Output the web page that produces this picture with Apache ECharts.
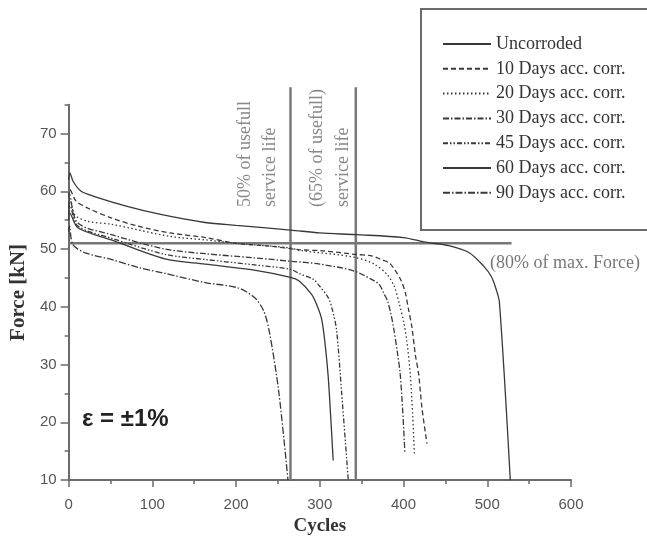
<!DOCTYPE html>
<html><head><meta charset="utf-8">
<script src="https://cdn.jsdelivr.net/npm/echarts@6/dist/echarts.min.js"></script>
<style>html,body{margin:0;padding:0;background:#fff}#c{width:647px;height:541px}</style>
</head><body><div id="c"></div><script>
const seriesNames = ['Uncorroded','10 Days acc. corr.','20 Days acc. corr.','30 Days acc. corr.','45 Days acc. corr.','60 Days acc. corr.','90 Days acc. corr.'];

const uncorrodedCycles = [0,1.5,5.5,15,31,70,110,163,200,265,300,343,400,426,454,478,496,505,510,514.5,527.5];
const uncorrodedForce  = [62,63.2,61.7,60,59.1,57.4,56,54.6,54.1,53.3,52.8,52.5,52,51.2,50.6,49.4,47,45.2,43.3,40.8,10];

const days10Cycles = [0,1.5,9,23,51,82,121,163,200,241,275,304,341,363,373,383,390,397,402,406,410,414,418,422,428];
const days10Force  = [59,60.3,58.3,57.1,55.4,54,52.8,52,51,50.5,49.9,49.7,49.1,48.8,48.2,47.6,46.3,44.6,42.5,39.5,36.5,31.8,28.4,22.5,16.3];

const days20Cycles = [0,1.5,7,23,51,121,163,200,265,275,341,365,381,389,395,400,404,408,411,413];
const days20Force  = [58,59.4,56,54.8,54.3,52.2,51.6,51,50.2,49.8,48.6,47.4,45.5,43.5,40.5,37.5,34,28.4,21,14.4];

const days30Cycles = [0,1.5,11,51,115,163,220,265,300,341,365,371,377,381,385,388,393,396,399,401.6];
const days30Force  = [57,58.6,54.5,52.5,50,49.2,48.5,47.9,47.4,46.2,44.5,43.9,42.2,41,38.7,36.5,31.8,28.4,22,14.8];

const days45Cycles = [0,1.5,11,51,115,163,220,265,275,292,298,310,315,320,326,334];
const days45Force  = [56,57.5,54,51.9,49.1,48.2,47.3,46.5,45.8,44.8,43.9,41.6,39.5,36,25.3,10];

const days60Cycles = [0,1.5,11,51,115,163,220,265,275,290,296,302,306,310,313,316];
const days60Force  = [55,56.2,53.7,51.6,48.3,47.4,46.4,45.1,44.5,42.2,40.5,38,34,28,21,13.4];

const days90Cycles = [0,1,5,19,51,84,115,163,202,222,233,240,251,262];
const days90Force  = [53,54,50.8,49.4,48.2,46.8,45.8,44.2,43.3,41.6,39.3,35.5,25.3,10];

const xTicks = [0,100,200,300,400,500,600];
const yTicks = [10,20,30,40,50,60,70];

const serviceLife50 = 265;
const serviceLife65 = 343;
const maxForce80 = 51;
const hLineEnd = 529;
const refTop = 78;

const cyclesList = [uncorrodedCycles,days10Cycles,days20Cycles,days30Cycles,days45Cycles,days60Cycles,days90Cycles];
const forceList = [uncorrodedForce,days10Force,days20Force,days30Force,days45Force,days60Force,days90Force];
const dashTypes = ['solid',[5,3],[1.5,2.5],[6,2,1.5,2],[5,2,1.5,2,1.5,2],'solid',[7,2,1.5,2]];

function pairs(xs, ys){ return xs.map((x,i)=>[x, ys[i]]); }

const curveSeries = seriesNames.map((name,i)=>({
  name: name, type:'line', xAxisIndex:0, yAxisIndex:0,
  data: pairs(cyclesList[i], forceList[i]),
  symbol:'none', smooth:0.3,
  lineStyle:{color:'#383838', width:1.3, type:dashTypes[i]},
  itemStyle:{color:'#383838'}
}));

const refStyle = {color:'#777', width:2.5, type:'solid'};
const refSeries = [
  {type:'line', data:pairs([serviceLife50,serviceLife50],[10,refTop]), symbol:'none', clip:false, silent:true, lineStyle:refStyle, z:1},
  {type:'line', data:pairs([serviceLife65,serviceLife65],[10,refTop]), symbol:'none', clip:false, silent:true, lineStyle:refStyle, z:1},
  {type:'line', data:pairs([0,hLineEnd],[maxForce80,maxForce80]), symbol:'none', clip:false, silent:true, lineStyle:refStyle, z:1}
];

const axisCol = '#6a6a6a';
const labelFont = {fontFamily:'Liberation Sans, Arial, sans-serif', fontSize:15, color:'#555'};
const serif = 'Liberation Serif, Times New Roman, serif';

const chart = echarts.init(document.getElementById('c'), null, {renderer:'canvas'});
chart.setOption({
  animation:false,
  backgroundColor:'#fff',
  grid:{left:62, right:76, top:104.7, bottom:59.3, containLabel:false},
  legend:{
    data:seriesNames, orient:'vertical', left:420, top:8,
    itemWidth:48, itemHeight:14, itemGap:6.8,
    padding:[27,10,28,22],
    borderWidth:0,
    itemStyle:{opacity:0, borderWidth:0},
    textStyle:{fontFamily:serif, fontSize:18, color:'#333', lineHeight:18},
    selectedMode:false
  },
  xAxis:[
    {type:'value', min:0, max:600, interval:100, position:'bottom',
     axisLine:{lineStyle:{color:axisCol, width:2}},
     axisTick:{show:true, length:7, lineStyle:{color:axisCol, width:1.5}},
     axisLabel:Object.assign({margin:17, formatter:v=>xTicks.includes(v)?String(v):''}, labelFont),
     splitLine:{show:false},
     name:'Cycles', nameLocation:'middle', nameGap:31,
     nameTextStyle:{fontFamily:serif, fontSize:19, fontWeight:'bold', color:'#333'}},
    {type:'value', min:0, max:600, interval:50, position:'bottom',
     axisLine:{show:false}, axisLabel:{show:false}, splitLine:{show:false},
     axisTick:{show:true, length:4, lineStyle:{color:axisCol, width:1.5}}}
  ],
  yAxis:[
    {type:'value', min:10, max:75, interval:10, position:'left',
     axisLine:{show:true, lineStyle:{color:axisCol, width:2}},
     axisTick:{show:true, length:8, lineStyle:{color:axisCol, width:1.5}},
     axisLabel:Object.assign({margin:12, showMaxLabel:false, formatter:v=>yTicks.includes(v)?String(v):''}, labelFont),
     splitLine:{show:false},
     name:'Force [kN]', nameLocation:'middle', nameGap:36, nameRotate:90,
     nameTextStyle:{fontFamily:serif, fontSize:21, fontWeight:'bold', color:'#333'}},
    {type:'value', min:10, max:75, interval:5, position:'left',
     axisLine:{show:false}, axisLabel:{show:false}, splitLine:{show:false},
     axisTick:{show:true, length:4, lineStyle:{color:axisCol, width:1.5}}}
  ],
  graphic:[
    {type:'rect', shape:{x:421, y:9, width:300, height:221}, style:{fill:'none', stroke:'#6a6a6a', lineWidth:2}, z:-1},
    {type:'text', x:490, y:263, style:{text:'(80% of max. Force)', font:'18px '+serif, fill:'#777', align:'left', verticalAlign:'middle'}},
    {type:'text', x:245, y:207, rotation:Math.PI/2, style:{text:'50% of usefull', font:'18px '+serif, fill:'#888', align:'left', verticalAlign:'middle'}},
    {type:'text', x:270, y:207, rotation:Math.PI/2, style:{text:'service life', font:'18px '+serif, fill:'#888', align:'left', verticalAlign:'middle'}},
    {type:'text', x:317, y:207, rotation:Math.PI/2, style:{text:'(65% of usefull)', font:'18px '+serif, fill:'#888', align:'left', verticalAlign:'middle'}},
    {type:'text', x:343, y:207, rotation:Math.PI/2, style:{text:'service life', font:'18px '+serif, fill:'#888', align:'left', verticalAlign:'middle'}},
    {type:'text', x:82, y:419, style:{text:'ε = ±1%', font:'bold 24px Liberation Sans, Arial, sans-serif', fill:'#222', align:'left', verticalAlign:'middle'}}
  ],
  series: refSeries.concat(curveSeries)
});
</script></body></html>
